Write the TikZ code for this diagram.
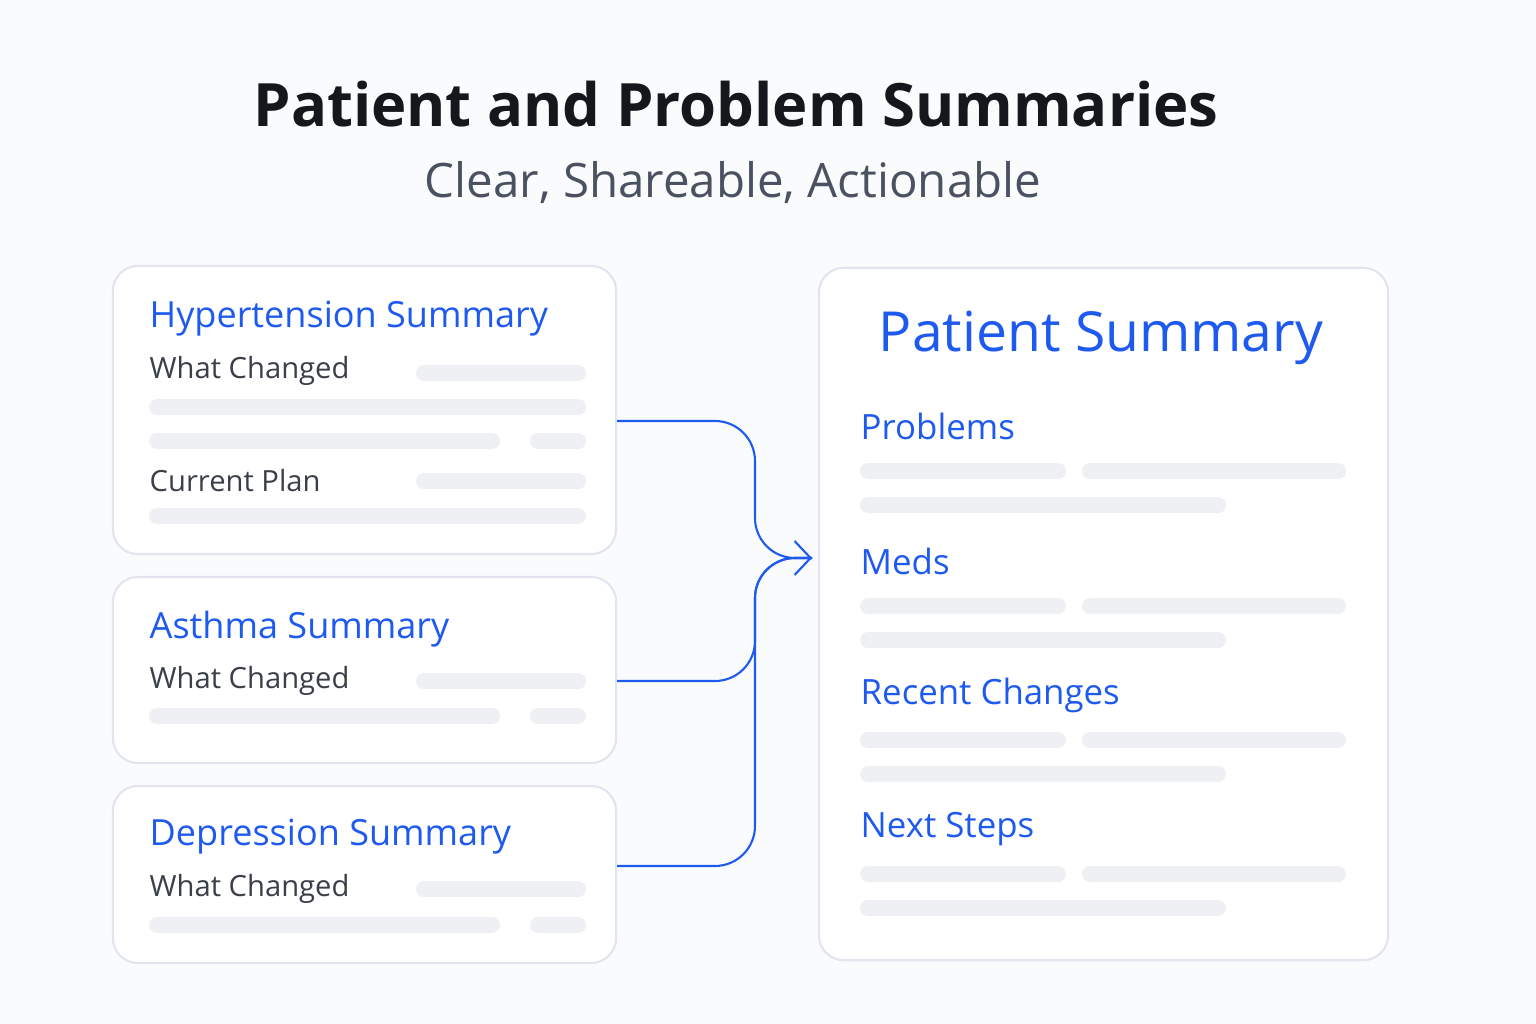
\documentclass[tikz,border=0pt]{standalone}
\usepackage{fontspec}
\setmainfont{Open Sans}
\usetikzlibrary{arrows.meta}
\definecolor{bgc}{HTML}{FAFBFC}
\definecolor{edgec}{HTML}{E2E5EE}
\definecolor{barc}{HTML}{EEF0F4}
\definecolor{bluec}{HTML}{1F5AF0}
\definecolor{inkc}{HTML}{15171C}
\definecolor{grayc}{HTML}{4A5262}
\definecolor{labelc}{HTML}{3A3F4A}
\tikzset{
  card/.style={draw=edgec, line width=0.6pt, fill=white, rounded corners=0.25cm, inner sep=0pt},
  bar/.style={fill=barc, rounded corners=0.08cm},
  head/.style={anchor=west, text=bluec, inner sep=0pt, font=\fontsize{10.25}{12}\selectfont},
  sub/.style={anchor=west, text=labelc, inner sep=0pt, font=\fontsize{8.3}{10}\selectfont},
  sec/.style={anchor=west, text=bluec, inner sep=0pt, font=\fontsize{9.9}{12}\selectfont},
  link/.style={draw=bluec, line width=0.6pt, rounded corners=0.4cm}
}
\newcommand{\pbar}[3]{\fill[bar] (#1,#3-8) rectangle (#2,#3+8);}
\begin{document}
\begin{tikzpicture}[x=0.01cm, y=-0.01cm]
\fill[bgc] (0,0) rectangle (1536,1024);
\useasboundingbox (0,0) rectangle (1536,1024);
% title
\node[text=inkc, font=\fontsize{17}{20}\selectfont\bfseries] (title) at (736,104) {Patient and Problem Summaries};
\node[text=grayc, font=\fontsize{13.5}{16}\selectfont] (subtitle) at (733,183) {Clear, Shareable, Actionable};
% cards
\node[card, minimum width=5.03cm, minimum height=2.88cm] (hyp) at (364.5,410) {};
\node[card, minimum width=5.03cm, minimum height=1.86cm] (ast) at (364.5,670) {};
\node[card, minimum width=5.03cm, minimum height=1.77cm] (dep) at (364.5,874.5) {};
\node[card, minimum width=5.69cm, minimum height=6.92cm] (pat) at (1103.5,614) {};
% hypertension
\node[head] (hyph) at (149,319) {Hypertension Summary};
\node[sub] (hypw) at (149,371) {What Changed};
\node[sub] (hypc) at (149,481) {Current Plan};
\pbar{416}{586}{373} \pbar{149}{586}{407}
\pbar{149}{500}{441} \pbar{530}{586}{441}
\pbar{416}{586}{481} \pbar{149}{586}{516}
% asthma
\node[head] (asth) at (149,629) {Asthma Summary};
\node[sub] (astw) at (149,681) {What Changed};
\pbar{416}{586}{681} \pbar{149}{500}{716} \pbar{530}{586}{716}
% depression
\node[head] (deph) at (149,837) {Depression Summary};
\node[sub] (depw) at (149,889) {What Changed};
\pbar{416}{586}{889} \pbar{149}{500}{925} \pbar{530}{586}{925}
% patient summary
\node[text=bluec, font=\fontsize{15.7}{19}\selectfont] (path) at (1101,338) {Patient Summary};
\foreach \name/\txt/\yy in {prob/Problems/426, meds/Meds/561, rec/Recent Changes/695, next/Next Steps/829}{
  \node[sec] (\name) at (860,\yy) {\txt};
  \pbar{860}{1066}{\yy+45} \pbar{1082}{1346}{\yy+45} \pbar{860}{1226}{\yy+79}
}
% connectors
\coordinate (join) at (812,558);
\draw[link] ([yshift=-0.11cm]hyp.east) -| (755,558) -- (join);
\draw[link] ([yshift=-0.11cm]ast.east) -| (755,558) -- (join);
\draw[link] ([yshift=0.085cm]dep.east) -| (755,558) -- (join);
\draw[draw=bluec, line width=0.6pt, -{Straight Barb[length=0.16cm, width=0.34cm]}] (790,558) -- (join);
\end{tikzpicture}
\end{document}
